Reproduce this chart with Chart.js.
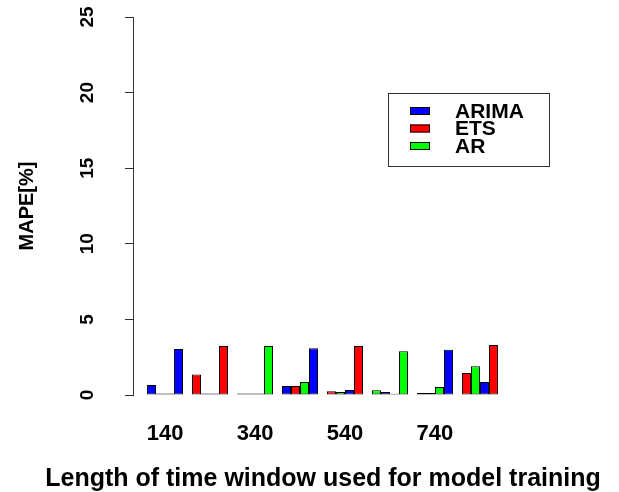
<!DOCTYPE html>
<html>
<head>
<meta charset="utf-8">
<script src="https://cdn.jsdelivr.net/npm/chart.js@4.4.0/dist/chart.umd.min.js"></script>
<style>
    html, body { margin: 0; padding: 0; background: #fff; }
    #wrap { width: 619px; height: 492px; }
</style>
</head>
<body>
<div id="wrap"><canvas id="report"></canvas></div>
<script>
// training window lengths (one group of bars each)
const windows = [140, 240, 340, 440, 540, 640, 740, 840];
const shownTicks = [140, 340, 540, 740];

// the four rows of the plotted matrix
const row1 = [0.66, 1.35, 0.10, 0.60, 0.25, 0.32, 0.13, 1.45];
const row2 = [0.10, 0.10, 0.10, 0.60, 0.20, 0.20, 0.13, 1.90];
const row3 = [0.10, 0.10, 0.10, 0.86, 0.33, 0.08, 0.53, 0.86];
const row4 = [3.04, 3.24, 3.24, 3.10, 3.24, 2.90, 3.00, 3.30];

const legendLabels = ["ARIMA", "ETS", "AR"];
const barColors = ["#0000FF", "#FF0000", "#00FF00"];
const xTitle = "Length of time window used for model training";

document.addEventListener("DOMContentLoaded", function() {

    const fontFamily = "'Liberation Sans', Arial, sans-serif";
    Chart.defaults.font.family = fontFamily;
    Chart.defaults.color = "#000";

    const rows = [row1, row2, row3, row4];

    // colours get recycled bar by bar, like the original plot
    const datasets = rows.map((row, j) => ({
        label: "row" + (j + 1),
        data: row.map((v, i) => ({ x: windows[i], y: v })),
        backgroundColor: row.map((v, i) => barColors[(i * rows.length + j) % barColors.length]),
        borderColor: "#000",
        borderWidth: 1,
        borderSkipped: false,
        categoryPercentage: 0.8,
        barPercentage: 1.0
    }));

    // legend box + x title (the axis title would be squeezed to the plot width)
    const extras = {
        id: "extras",
        afterDraw(chart) {
            const c = chart.ctx;
            c.save();
            c.strokeStyle = "#333";
            c.lineWidth = 1;
            c.strokeRect(388.5, 93.5, 161, 73);
            c.font = "bold 21px " + fontFamily;
            c.textBaseline = "middle";
            legendLabels.forEach((lab, i) => {
                const y = 111 + i * 17.5;
                c.fillStyle = barColors[i];
                c.fillRect(410, y - 4, 20, 8);
                c.strokeStyle = "#000";
                c.strokeRect(410.5, y - 3.5, 19, 7);
                c.fillStyle = "#000";
                c.fillText(lab, 455, y + 1);
            });

            c.font = "bold 25px " + fontFamily;
            c.textAlign = "center";
            c.fillText(xTitle, 323, 479);
            c.restore();
        }
    };

    const ctx = document.getElementById("report").getContext("2d");
    let myChart = new Chart(ctx, {
        type: "bar",
        data: { datasets: datasets },
        plugins: [extras],
        options: {
            responsive: true,
            maintainAspectRatio: false,
            animation: false,
            layout: { padding: { top: 17, right: 107, bottom: 0, left: 0 } },
            plugins: {
                legend: { display: false },
                tooltip: { enabled: false }
            },
            scales: {
                x: {
                    type: "linear",
                    min: 68.8,
                    max: 911.2,
                    offset: false,
                    grid: { display: false, drawTicks: false },
                    border: { display: false },
                    afterBuildTicks: scale => {
                        scale.ticks = shownTicks.map(v => ({ value: v }));
                    },
                    afterFit: scale => {
                        scale.height = 97;
                        scale.paddingLeft = 0;
                        scale.paddingRight = 0;
                    },
                    ticks: {
                        autoSkip: false,
                        padding: 26,
                        maxRotation: 0,
                        font: { size: 22, weight: "bold" },
                        callback: v => String(v)
                    }
                },
                y: {
                    min: 0,
                    max: 25,
                    afterFit: scale => {
                        scale.width = 133;
                        scale.paddingTop = 0;
                        scale.paddingBottom = 0;
                    },
                    grid: {
                        drawOnChartArea: false,
                        drawTicks: true,
                        tickLength: 8,
                        color: "#333"
                    },
                    border: { display: true, color: "#333" },
                    ticks: {
                        stepSize: 5,
                        minRotation: 90,
                        maxRotation: 90,
                        crossAlign: "center",
                        padding: 27,
                        font: { size: 19, weight: "bold" }
                    },
                    title: {
                        display: true,
                        text: "MAPE[%]",
                        font: { size: 20, weight: "bold" },
                        padding: { top: 15, bottom: 0 }
                    }
                }
            }
        }
    });
});
</script>
</body>
</html>
